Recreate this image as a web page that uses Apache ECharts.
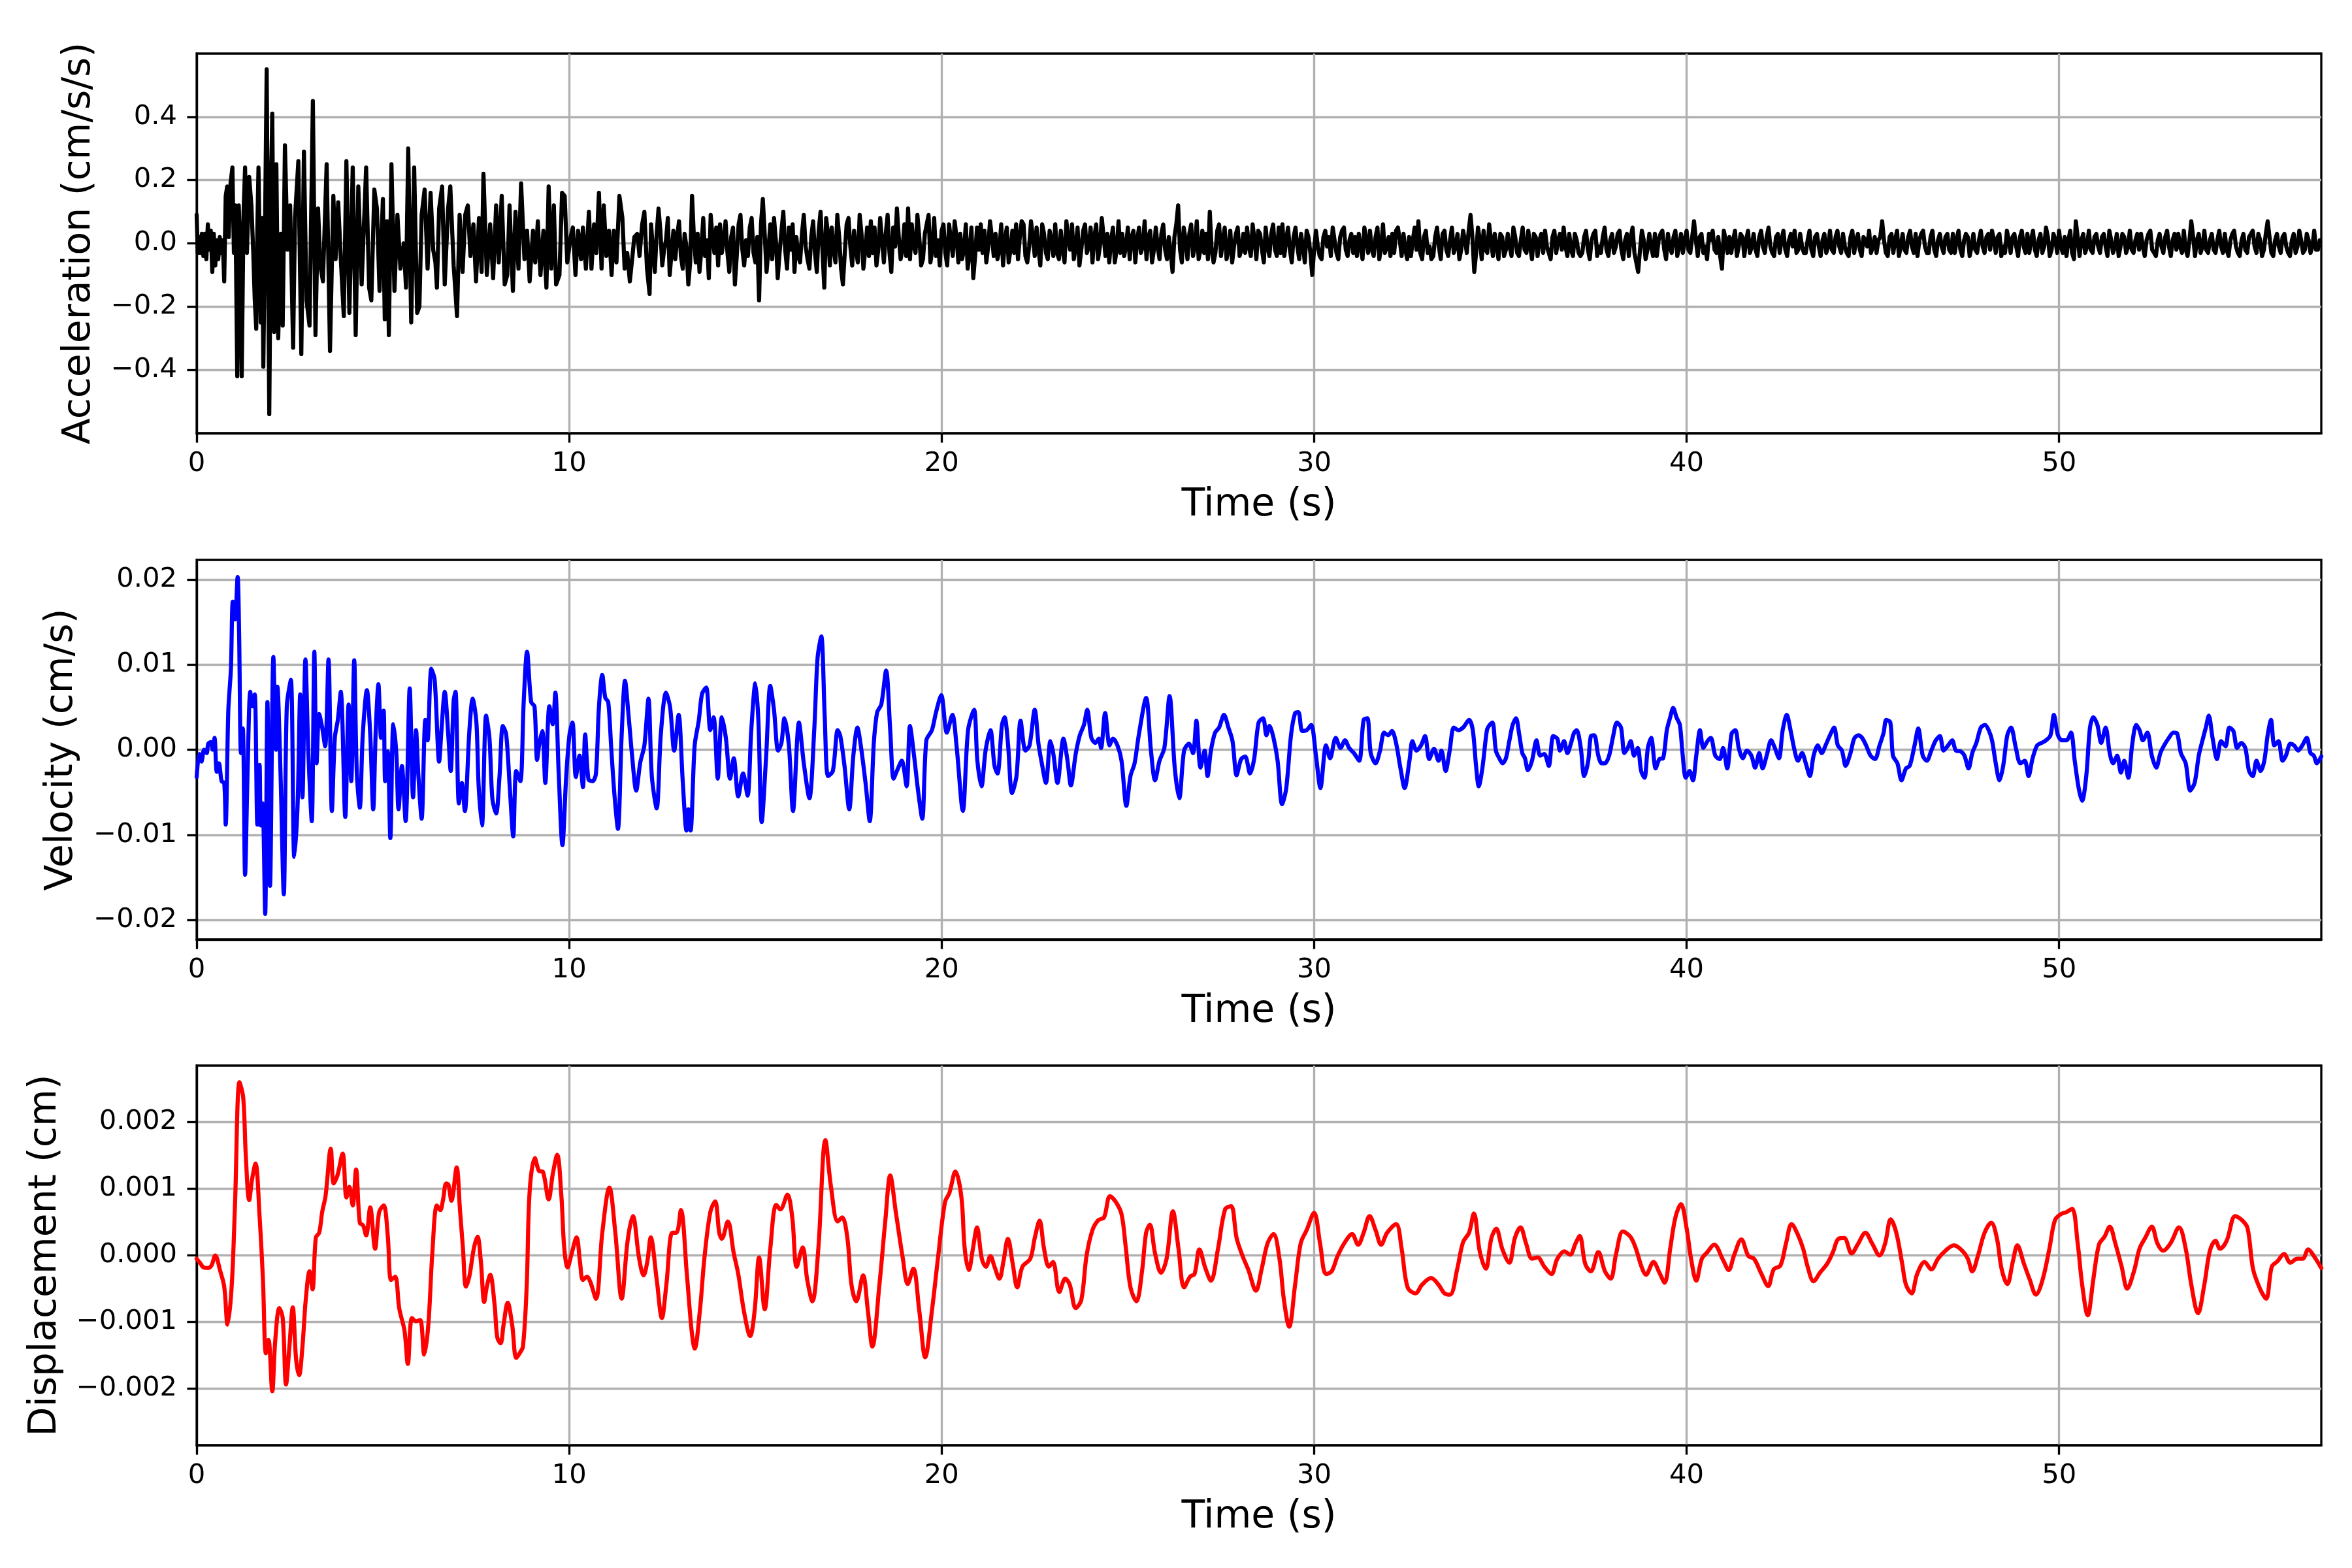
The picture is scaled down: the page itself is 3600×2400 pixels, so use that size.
<!DOCTYPE html>
<html>
<head>
<meta charset="utf-8">
<title>Acceleration, velocity and displacement records</title>
<script src="https://cdn.jsdelivr.net/npm/echarts@6.0.0/dist/echarts.min.js"></script>
<style>
  html, body { margin: 0; padding: 0; background: #fff; }
  #chart { width: 3600px; height: 2400px; }
</style>
</head>
<body>
<div id="chart"></div>
<script>
// ---- data (times in s) ----
// acceleration, in 0.01 cm/s/s. First 12 s read spike by spike, rest on a 0.05 s grid
const accEarlyT = [0.00,0.03,0.06,0.10,0.14,0.18,0.22,0.26,0.30,0.34,0.38,0.42,0.46,0.50,0.54,0.58,0.62,0.66,0.70,0.74,
  0.78,0.82,0.86,0.91,0.96,1.00,1.04,1.09,1.13,1.17,1.21,1.26,1.30,1.35,1.41,1.47,1.52,1.56,1.60,1.63,
  1.66,1.69,1.72,1.76,1.79,1.84,1.88,1.92,1.95,2.00,2.03,2.08,2.14,2.19,2.26,2.31,2.37,2.44,2.51,2.59,
  2.64,2.73,2.81,2.88,2.95,3.03,3.12,3.19,3.26,3.32,3.39,3.49,3.58,3.67,3.73,3.80,3.87,3.95,4.02,4.10,
  4.19,4.27,4.34,4.43,4.55,4.63,4.69,4.77,4.84,4.91,5.00,5.05,5.11,5.16,5.23,5.31,5.39,5.47,5.56,5.62,
  5.68,5.76,5.84,5.92,5.98,6.04,6.12,6.20,6.28,6.35,6.41,6.45,6.51,6.59,6.66,6.75,6.81,6.90,6.99,7.06,
  7.14,7.21,7.28,7.35,7.43,7.50,7.58,7.65,7.70,7.79,7.88,7.96,8.04,8.11,8.19,8.27,8.34,8.40,8.49,8.56,
  8.64,8.71,8.80,8.87,8.94,9.03,9.09,9.16,9.23,9.31,9.39,9.45,9.52,9.59,9.65,9.74,9.81,9.88,9.95,10.04,
  10.10,10.17,10.24,10.32,10.37,10.45,10.53,10.60,10.67,10.73,10.80,10.87,10.93,11.00,11.07,11.14,11.20,11.27,11.35,11.43,
  11.49,11.56,11.63,11.70,11.75,11.83,11.89,11.96,12.02,12.09,12.16];
const accEarlyV = [9,-3,2,-3,3,-4,3,-5,6,-2,4,-9,3,-7,1,-5,2,-3,1,-12,
  15,18,2,19,24,-3,12,-42,12,-1,-42,10,24,-3,21,12,-3,-18,-27,5,
  24,0,-25,8,-39,10,55,-10,-54,20,41,-28,25,-30,3,-26,31,-2,12,-33,
  8,26,-35,29,-18,-26,45,-29,11,-7,-12,25,-34,15,-5,13,-5,-23,26,-22,
  24,-29,18,-13,24,-14,-18,17,11,-15,14,-24,7,-29,25,-15,9,-8,0,-14,
  30,-25,24,-22,-20,9,17,-8,16,-2,-6,-14,11,18,-13,11,18,-7,-23,9,
  -9,9,12,-4,6,-12,8,-9,22,-10,6,-11,12,-6,15,-13,-10,12,-15,10,
  -8,19,-5,4,-12,4,-6,7,-10,4,-14,18,-8,12,-13,-10,16,15,-6,2,
  5,-10,4,-5,5,-8,10,-8,6,-3,16,-8,12,-4,4,-10,4,-6,15,8,
  -8,-3,-12,-4,2,3,-4,6,10,-8,-16];
const accLateStart = 12.2, accLateStep = 0.05;
const accLateV = [
  6,-2,-9,3,11,4,-7,-2,1,8,-10,-3,4,-5,2,7,-4,-8,3,-1,
  -13,-6,15,2,-6,3,-9,-2,8,-4,1,-11,9,2,-3,5,-7,6,-3,1,
  7,-3,-9,2,5,-13,-4,6,9,-2,-7,1,-4,5,8,-3,-6,2,-18,6,
  14,3,-9,-2,6,-5,8,1,-11,-3,4,10,-2,-8,5,-2,6,-9,2,-4,
  -6,3,9,-1,-5,-8,2,7,-3,-9,4,10,-2,-14,8,3,-7,5,-2,-6,
  9,2,-8,-13,-3,6,8,-1,-7,4,-2,-6,9,3,-8,-2,5,-4,7,-3,
  5,-7,-2,8,1,-6,3,9,-3,-9,5,-1,11,2,-5,-2,6,-4,11,-5,
  6,-1,-3,9,2,-7,-5,3,6,9,-6,-2,8,-4,1,-7,4,6,-3,-7,
  6,1,-4,7,2,-6,3,-5,-2,6,-8,-3,5,-11,-4,5,-2,6,-3,4,
  -6,-1,7,2,-4,3,-5,-2,6,-7,1,5,-6,-2,4,-3,6,-5,2,7,
  6,-4,-6,-1,7,2,-4,5,-2,-7,6,3,-3,-5,4,1,-4,6,-3,-5,
  4,-2,-6,7,1,-2,6,-5,-1,5,-7,-2,4,6,-3,-1,5,-6,2,6,
  -5,-1,8,2,-4,3,-6,1,5,-6,-2,7,-3,3,-4,-1,5,-5,2,4,
  -6,1,5,-3,-1,7,-5,2,4,-6,-2,5,-1,-5,3,6,-2,-5,2,-3,
  -9,2,6,12,-2,-6,5,1,-5,3,6,-4,-1,7,-5,-2,4,-3,3,-5,
  10,-2,-6,-3,4,6,-4,1,5,-5,-2,4,-6,-1,3,5,-4,-2,3,-3,
  5,-1,-4,6,1,-5,4,3,-2,-6,5,-1,-4,3,6,-2,-4,5,-3,6,
  -4,1,5,-2,-6,2,5,-1,-5,3,-1,-6,4,2,-3,-10,-2,4,-1,-4,
  -5,2,4,-1,2,-4,5,1,-3,-5,2,4,5,-2,-4,1,3,-3,2,-4,
  3,-1,-5,5,1,-3,4,-2,-4,2,5,-5,-1,6,-3,-1,2,-4,3,-3,
  4,5,1,-4,3,-2,-5,2,-4,1,5,-2,7,-3,-5,2,4,-3,-1,-5,
  -4,2,5,-1,-5,3,4,-2,-4,1,5,-3,-1,3,-5,-2,4,1,-3,4,
  9,2,-9,-3,5,1,-5,4,-2,-3,6,1,-4,3,-1,-5,3,2,-4,-2,
  3,-1,-4,5,2,-3,-4,1,5,-2,-3,4,-1,-5,3,2,-4,1,3,-3,
  4,-1,-3,-5,2,4,-3,1,3,-2,5,-1,-4,3,-2,-4,3,1,-3,-4,
  -3,2,4,-2,-5,1,3,4,-4,-1,-3,2,5,-2,-4,1,3,-3,-1,3,
  4,-2,-5,1,3,-4,2,5,-3,-6,-9,-2,4,1,-5,-2,3,-1,-4,3,
  -4,1,3,4,-2,-5,3,-1,-3,2,4,-4,-1,3,-3,1,4,-2,-3,2,
  7,1,-4,2,3,-3,-1,-5,3,1,4,-2,-3,2,-4,-8,4,1,-3,2,
  -3,1,4,-4,-1,3,2,-4,1,4,-3,-1,3,-2,-4,2,4,-1,-3,2,
  5,-1,-3,-4,2,3,-3,1,4,-2,-4,1,3,-1,4,-3,-2,3,-1,-3,
  -3,1,4,-2,-4,2,3,-1,-4,1,3,-3,-1,4,-2,-3,2,4,-1,-3,
  3,-1,-3,-4,2,4,-3,1,3,-2,-4,2,1,-1,4,-3,-1,2,-3,1,
  2,7,1,-3,-4,2,3,-3,1,4,-4,-1,3,-2,-3,2,4,-1,-3,3,
  -4,1,3,4,-1,-3,-3,2,4,-2,-4,1,3,-1,-3,2,3,-2,-3,3,
  -3,1,4,-2,-4,1,3,2,-4,-1,3,-2,-3,1,4,-1,-3,2,3,-2,
  4,1,-3,2,3,-4,-1,-3,4,1,-3,2,3,-1,-4,2,4,-1,-3,3,
  -3,1,4,-2,-4,1,3,-3,-1,5,2,-4,-2,3,1,-3,4,-1,-3,2,
  -4,1,4,-3,-5,7,2,-4,1,3,-3,-1,4,-2,-3,2,3,-1,-3,2,
  3,-1,-4,4,1,-3,-1,3,-4,-1,3,2,-3,-1,4,-2,-3,1,3,-2,
  3,-1,-4,1,3,4,-2,-3,-4,1,3,-1,-3,2,4,-1,-4,1,3,-2,
  3,-1,-3,4,-2,-4,1,7,2,-4,1,3,-3,-1,4,-2,-3,1,3,-2,
  -3,1,4,-1,-3,3,-2,-4,1,3,4,-1,-3,-4,1,3,-2,-3,2,3,
  4,-1,-3,3,1,-4,-2,3,7,2,-3,-4,1,3,-1,-3,2,3,-1,-3,
  -4,1,3,-3,-1,4,1,-3,-2,3,1,-3,-1,4,-2,-2,1];

// velocity, in 0.001 cm/s
const velT = [0,0.07,0.13,0.2,0.27,0.31,0.38,0.43,0.48,0.54,0.6,0.67,0.74,0.78,0.85,0.92,0.97,1.03,1.1,1.14,
  1.19,1.24,1.3,1.37,1.44,1.5,1.56,1.63,1.69,1.72,1.77,1.84,1.9,1.97,2.06,2.13,2.17,2.25,2.34,2.42,
  2.53,2.62,2.71,2.78,2.84,2.92,3.0,3.09,3.16,3.22,3.29,3.37,3.45,3.54,3.63,3.71,3.79,3.87,3.99,4.08,
  4.15,4.23,4.3,4.38,4.46,4.57,4.66,4.74,4.81,4.88,4.95,5.02,5.06,5.13,5.2,5.28,5.36,5.42,5.51,5.61,
  5.72,5.81,5.89,5.95,6.04,6.14,6.2,6.3,6.39,6.51,6.58,6.66,6.76,6.82,6.9,6.95,7.04,7.12,7.2,7.32,
  7.41,7.51,7.57,7.66,7.77,7.86,7.94,8.04,8.13,8.22,8.31,8.41,8.5,8.58,8.69,8.78,8.87,8.98,9.07,9.14,
  9.2,9.28,9.36,9.47,9.56,9.63,9.72,9.82,9.92,10.01,10.09,10.18,10.28,10.37,10.43,10.52,10.63,10.72,10.8,10.89,
  10.97,11.05,11.13,11.22,11.31,11.41,11.5,11.6,11.69,11.8,11.91,12.02,12.13,12.22,12.35,12.46,12.6,12.71,12.82,12.94,
  13.05,13.15,13.2,13.26,13.37,13.48,13.57,13.68,13.79,13.88,13.99,14.1,14.21,14.32,14.42,14.54,14.67,14.79,14.89,15.0,
  15.08,15.17,15.29,15.4,15.5,15.61,15.7,15.78,15.9,16.01,16.17,16.3,16.45,16.58,16.67,16.77,16.86,16.95,17.08,17.21,
  17.28,17.39,17.52,17.63,17.74,17.83,17.96,18.07,18.18,18.27,18.38,18.51,18.62,18.71,18.8,18.93,19.06,19.15,19.26,19.37,
  19.48,19.59,19.74,19.85,19.99,20.14,20.29,20.4,20.57,20.71,20.87,20.96,21.07,21.18,21.31,21.42,21.5,21.62,21.69,21.78,
  21.89,22.01,22.12,22.25,22.36,22.5,22.6,22.69,22.8,22.92,23.0,23.11,23.27,23.38,23.47,23.6,23.71,23.82,23.91,24.02,
  24.13,24.22,24.28,24.39,24.51,24.6,24.72,24.83,24.96,25.07,25.18,25.3,25.49,25.62,25.73,25.85,25.98,26.12,26.26,26.38,
  26.51,26.64,26.75,26.84,26.95,27.06,27.14,27.23,27.34,27.45,27.58,27.7,27.81,27.92,28.04,28.15,28.28,28.39,28.51,28.63,
  28.72,28.8,28.91,29.02,29.14,29.25,29.38,29.49,29.58,29.68,29.8,29.92,30.05,30.17,30.32,30.43,30.58,30.71,30.83,30.94,
  31.07,31.21,31.33,31.43,31.52,31.65,31.77,31.88,31.99,32.09,32.2,32.32,32.43,32.56,32.64,32.75,32.87,32.98,33.09,33.22,
  33.34,33.42,33.53,33.64,33.75,33.87,34.0,34.16,34.26,34.35,34.42,34.52,34.64,34.71,34.79,34.88,34.97,35.06,35.15,35.24,
  35.33,35.42,35.51,35.59,35.66,35.74,35.85,35.97,36.07,36.18,36.3,36.42,36.53,36.6,36.71,36.8,36.9,36.98,37.05,37.16,
  37.25,37.36,37.43,37.52,37.63,37.72,37.81,37.92,38.02,38.13,38.24,38.33,38.42,38.5,38.59,38.69,38.78,38.87,38.96,39.05,
  39.17,39.27,39.37,39.47,39.56,39.64,39.73,39.82,39.89,39.98,40.08,40.17,40.26,40.36,40.45,40.56,40.65,40.77,40.89,40.98,
  41.09,41.21,41.31,41.4,41.51,41.62,41.74,41.84,41.95,42.04,42.15,42.27,42.37,42.48,42.58,42.69,42.79,42.89,42.99,43.1,
  43.2,43.31,43.41,43.52,43.63,43.73,43.85,43.96,44.06,44.17,44.27,44.4,44.5,44.61,44.71,44.82,44.94,45.06,45.18,45.29,
  45.36,45.47,45.54,45.66,45.77,45.89,45.99,46.12,46.22,46.34,46.45,46.57,46.69,46.8,46.9,47.02,47.13,47.23,47.36,47.46,
  47.57,47.67,47.78,47.9,48.01,48.11,48.2,48.3,48.4,48.5,48.61,48.71,48.84,48.96,49.08,49.18,49.29,49.41,49.53,49.65,
  49.77,49.86,49.97,50.08,50.2,50.32,50.42,50.53,50.62,50.73,50.83,50.92,51.03,51.13,51.25,51.36,51.45,51.56,51.66,51.75,
  51.86,51.96,52.07,52.16,52.25,52.37,52.49,52.61,52.72,52.82,52.95,53.07,53.17,53.27,53.4,53.52,53.64,53.75,53.85,53.94,
  54.02,54.12,54.24,54.35,54.47,54.57,54.68,54.78,54.89,55.0,55.1,55.2,55.3,55.41,55.51,55.6,55.69,55.78,55.89,56.0,
  56.09,56.21,56.31,56.42,56.53,56.65,56.75,56.84,56.92,57.04];
const velV = [-3.2,-0.5,-1.4,0,-0.4,0.7,0.9,0,1.4,-2.6,-1.6,-3.7,-3.9,-8.8,4.6,9.5,17.4,15.3,20.3,13.7,
  -0.4,2.5,-14.7,-2.1,6.8,5.1,6.5,-8.8,-1.8,-8.9,-6.3,-19.3,5.6,-16.0,10.9,0,7.4,-2.5,-17.0,5.1,
  8.2,-12.6,-6.5,6.5,-5.6,10.6,-0.4,-8.4,11.5,-1.6,4.2,2.6,0.4,10.6,-7.2,1.4,3.5,6.8,-7.9,5.3,
  -3.7,10.5,-2.8,-6.8,1.8,7.0,1.8,-7.0,2.5,7.7,1.4,4.6,-3.7,-0.2,-10.4,3.0,-0.4,-7.0,-1.9,-8.4,
  7.2,-5.6,2.3,-2.8,-8.1,3.5,1.1,9.5,8.2,-1.4,2.8,6.8,1.4,-2.5,5.8,6.8,-6.3,-3.9,-7.2,2.1,
  6.0,3.2,-4.2,-8.9,4.0,1.4,-5.8,-7.5,-3.2,2.8,1.8,-4.7,-10.2,-2.5,-3.7,5.6,11.5,5.6,5.1,-1.2,
  0.7,2.2,-3.9,5.1,3.0,6.7,-2.8,-11.2,-3.2,1.8,3.2,-3.2,-0.7,-4.4,1.8,-3.5,-3.7,-2.8,5.0,8.8,
  6.1,5.6,0.2,-5.5,-9.3,1.7,8.1,3.8,-0.7,-4.8,-1.5,0.5,6.0,-3.1,-6.9,1.7,6.7,5.0,-0.1,4.1,
  -3.7,-9.5,-7.0,-9.5,0.5,3.4,6.6,7.3,2.3,3.8,-3.4,3.8,1.3,-3.4,-1.0,-5.5,-2.8,-5.4,2.3,7.8,
  3.5,-8.5,-0.7,7.5,4.7,-0.1,0.8,3.7,0.5,-7.2,3.2,-1.6,-5.7,2.3,10.8,13.3,4.1,-3.1,-2.5,2.3,
  1.6,-1.8,-7.0,-0.7,2.6,0.5,-4.0,-8.4,0.8,4.4,5.3,9.3,2.3,-3.4,-2.5,-1.3,-4.3,2.8,-0.7,-4.9,
  -8.1,1.1,2.3,4.4,6.4,2.0,4.1,0.5,-7.2,2.3,4.7,-1.3,-4.3,-0.1,2.3,-1.9,-2.8,2.9,3.8,0.8,
  -5.1,-3.1,3.4,-0.1,0.5,4.7,0.7,-1.6,-3.9,1.0,-0.5,-3.9,1.3,-1.3,-4.2,-0.5,1.7,2.9,4.7,1.4,
  0.8,1.3,0.2,4.3,0.5,1.3,0.5,-1.3,-6.6,-3.1,-1.6,1.9,6.1,-0.1,-3.6,-1.3,0.2,6.3,-2.2,-5.7,
  -0.1,0.7,-0.4,3.4,-2.1,-0.1,-3.1,-0.1,2.0,2.6,4.1,2.6,1.0,-3.0,-1.1,-0.8,-2.8,-1.1,3.2,3.7,
  1.7,2.8,1.4,-1.3,-6.4,-4.6,1.7,4.3,4.4,2.2,2.3,2.9,-0.7,-4.5,0.5,-1.0,1.4,0.2,1.1,0.2,
  -0.4,-1.3,3.5,3.7,-0.4,-1.6,-0.1,2.0,1.7,2.2,0.8,-2.2,-4.5,-1.3,1.0,-0.1,0.5,1.6,-1.1,0.1,
  -1.3,-0.1,-2.5,-0.1,2.6,2.3,2.6,3.5,2.3,-2.0,-4.3,-2.1,2.3,2.9,3.2,-0.1,-1.0,-1.6,-1.0,1.0,
  2.9,3.7,1.7,-0.4,-1.0,-2.4,-1.3,1.1,-0.7,-0.5,-1.9,1.6,1.3,-0.1,1.0,-0.4,0.8,2.0,2.3,0.2,
  -3.1,-1.3,1.6,1.7,-0.7,-1.6,-1.6,-0.7,1.4,3.2,2.6,-0.4,0.2,1.0,-0.7,0.2,-2.5,-3.3,0.2,1.4,
  -2.2,-1.1,-1.0,2.3,3.8,4.9,3.8,2.9,-0.4,-3.3,-2.5,-3.6,-0.7,2.3,0.2,1.0,1.4,-0.7,-1.1,0.2,
  -2.2,1.9,2.3,0.2,-1.0,-0.1,-0.7,-2.1,-0.4,-2.2,-0.7,1.1,0.2,-1.0,2.3,4.1,2.3,0.1,-1.3,-0.4,
  -1.6,-3.1,-0.7,0.5,-0.4,0.5,1.7,2.6,0.5,-0.1,-1.9,-0.4,1.3,1.7,1.4,0.5,-0.7,-1.1,0.5,2.0,
  3.5,3.2,-0.7,-1.6,-3.6,-2.2,-1.9,0.5,2.5,-0.7,-1.3,-0.1,1.1,1.6,-0.1,0.5,1.1,-0.1,-0.2,-0.7,
  -2.2,-0.4,0.8,2.6,2.9,2.3,1.1,-1.6,-3.6,-1.9,1.7,2.6,0.2,-1.6,-1.3,-3.1,-1.0,0.5,0.8,1.1,
  1.7,4.1,1.7,1.1,1.1,2.0,-1.3,-4.6,-6.0,-3.1,2.6,3.8,2.9,0.8,2.6,-0.4,-1.6,-0.7,-2.7,-1.3,
  -3.3,0.5,2.9,2.3,1.1,2.0,-0.7,-2.1,-0.4,0.5,1.4,2.0,1.9,-0.4,-1.6,-4.8,-3.9,-0.7,1.1,2.6,
  4.0,1.4,-1.1,1.0,0.4,2.6,2.2,0.2,0.8,0.2,-2.5,-3.1,-1.3,-2.5,-1.3,1.7,3.5,0.5,1.0,-1.3,
  -0.7,0.7,0.5,-0.1,0.5,1.4,-0.4,-0.7,-1.6,-0.8];

// displacement, in 0.001 cm
const dispT = [0,0.1,0.18,0.3,0.4,0.5,0.63,0.74,0.83,0.94,1.03,1.15,1.25,1.32,1.41,1.49,1.58,1.69,1.78,1.86,
  1.93,2.03,2.11,2.22,2.31,2.4,2.49,2.58,2.67,2.75,2.84,2.93,3.03,3.11,3.2,3.29,3.37,3.46,3.6,3.68,
  3.78,3.92,4.02,4.1,4.19,4.28,4.38,4.47,4.55,4.66,4.79,4.9,5.02,5.13,5.22,5.33,5.44,5.58,5.67,5.78,
  5.89,6.0,6.11,6.22,6.33,6.45,6.54,6.61,6.7,6.76,6.84,6.98,7.07,7.15,7.23,7.32,7.44,7.54,7.63,7.72,
  7.79,7.88,8.0,8.07,8.16,8.24,8.35,8.47,8.58,8.67,8.76,8.86,8.94,9.08,9.19,9.3,9.45,9.56,9.68,9.79,
  9.87,9.96,10.06,10.2,10.29,10.37,10.48,10.57,10.72,10.89,11.08,11.24,11.41,11.57,11.71,11.88,12.0,12.1,12.19,12.35,
  12.49,12.61,12.77,12.88,13.0,13.16,13.29,13.37,13.51,13.63,13.79,13.92,14.03,14.1,14.26,14.42,14.54,14.7,14.86,14.98,
  15.1,15.25,15.4,15.56,15.67,15.86,15.99,16.11,16.27,16.39,16.53,16.69,16.88,17.03,17.21,17.33,17.47,17.58,17.71,17.89,
  18.02,18.14,18.33,18.49,18.62,18.77,18.96,19.09,19.24,19.4,19.56,19.74,19.9,20.09,20.21,20.37,20.53,20.62,20.73,20.84,
  20.95,21.08,21.19,21.31,21.42,21.55,21.66,21.78,21.91,22.03,22.17,22.38,22.5,22.63,22.75,22.88,22.99,23.16,23.32,23.44,
  23.6,23.75,23.89,24.05,24.21,24.36,24.52,24.68,24.83,24.94,25.07,25.23,25.38,25.49,25.59,25.73,25.89,26.04,26.21,26.36,
  26.51,26.67,26.79,26.92,27.08,27.23,27.42,27.61,27.77,27.92,28.08,28.23,28.44,28.59,28.75,28.91,29.07,29.19,29.33,29.49,
  29.64,29.8,30.0,30.16,30.32,30.47,30.63,30.83,31.02,31.18,31.33,31.49,31.65,31.8,31.96,32.2,32.35,32.51,32.72,32.9,
  33.14,33.34,33.5,33.65,33.84,34.0,34.16,34.29,34.45,34.61,34.76,34.89,35.05,35.24,35.39,35.54,35.69,35.85,36.0,36.18,
  36.37,36.53,36.72,36.87,37.02,37.13,37.28,37.43,37.63,37.81,37.96,38.11,38.29,38.49,38.64,38.79,38.91,39.11,39.27,39.41,
  39.56,39.7,39.85,40.0,40.12,40.26,40.41,40.56,40.74,40.98,41.13,41.28,41.47,41.66,41.81,42.01,42.19,42.34,42.52,42.67,
  42.82,42.98,43.13,43.25,43.41,43.58,43.78,43.93,44.08,44.23,44.43,44.61,44.8,44.98,45.18,45.33,45.48,45.63,45.79,45.89,
  46.04,46.19,46.39,46.57,46.75,46.95,47.18,47.4,47.55,47.67,47.82,48.0,48.18,48.33,48.46,48.61,48.76,48.88,49.06,49.21,
  49.38,49.56,49.74,49.89,50.05,50.2,50.35,50.5,50.62,50.77,50.92,51.07,51.22,51.36,51.51,51.68,51.83,52.01,52.16,52.31,
  52.49,52.64,52.79,52.99,53.22,53.4,53.55,53.73,53.9,54.05,54.2,54.32,54.5,54.73,54.91,55.06,55.21,55.41,55.56,55.71,
  55.86,56.04,56.21,56.39,56.54,56.69,56.84,57.04];
const dispV = [-0.05,-0.12,-0.18,-0.19,-0.15,0.0,-0.23,-0.47,-1.04,-0.47,0.77,2.6,2.37,1.49,0.83,1.15,1.38,0.58,-0.37,-1.47,
  -1.27,-2.04,-1.28,-0.79,-0.94,-1.94,-1.37,-0.78,-1.56,-1.8,-1.37,-0.66,-0.24,-0.51,0.27,0.34,0.65,0.89,1.6,1.08,
  1.2,1.53,0.87,1.03,0.75,1.29,0.49,0.45,0.3,0.72,0.1,0.65,0.75,0.3,-0.37,-0.32,-0.8,-1.13,-1.63,-0.94,
  -0.99,-0.97,-1.49,-1.04,0.06,0.75,0.68,0.82,1.08,1.06,0.82,1.32,0.68,0.1,-0.47,-0.32,0.1,0.28,-0.09,-0.7,
  -0.47,-0.29,-0.75,-1.23,-1.32,-1.04,-0.71,-1.04,-1.54,-1.47,-1.37,-0.47,0.96,1.46,1.27,1.25,0.84,1.22,1.51,0.91,
  0.1,-0.18,0.01,0.27,-0.09,-0.37,-0.32,-0.4,-0.65,0.34,1.02,0.34,-0.65,0.22,0.59,-0.05,-0.3,-0.09,0.27,-0.36,
  -0.94,-0.44,0.34,0.34,0.68,-0.28,-1.14,-1.4,-0.83,-0.05,0.65,0.81,0.34,0.25,0.51,0.03,-0.28,-0.86,-1.21,-0.83,
  -0.03,-0.81,0.1,0.76,0.69,0.91,0.57,-0.17,0.12,-0.36,-0.69,0.1,1.73,1.03,0.51,0.57,0.26,-0.44,-0.69,-0.3,
  -0.83,-1.37,-0.44,0.53,1.2,0.65,-0.05,-0.43,-0.2,-0.83,-1.53,-0.83,-0.05,0.8,0.94,1.26,0.88,0.1,-0.22,0.1,
  0.42,-0.05,-0.17,-0.01,-0.17,-0.35,-0.09,0.25,-0.13,-0.48,-0.17,-0.05,0.26,0.52,0.1,-0.17,-0.1,-0.55,-0.35,-0.44,
  -0.79,-0.67,-0.01,0.38,0.53,0.57,0.89,0.8,0.62,0.14,-0.48,-0.69,-0.24,0.34,0.46,0.03,-0.26,-0.05,0.66,0.1,
  -0.48,-0.32,-0.28,0.09,-0.19,-0.38,0.1,0.69,0.74,0.26,-0.01,-0.21,-0.53,-0.21,0.18,0.32,-0.05,-0.67,-1.07,-0.44,
  0.18,0.38,0.64,0.18,-0.28,-0.24,-0.01,0.2,0.32,0.16,0.34,0.59,0.38,0.16,0.34,0.47,0.1,-0.48,-0.57,-0.44,
  -0.34,-0.44,-0.57,-0.59,-0.21,0.2,0.34,0.63,0.05,-0.2,0.26,0.4,0.1,-0.11,0.26,0.42,0.18,-0.05,-0.03,-0.17,
  -0.28,-0.05,0.06,0.01,0.18,0.29,-0.13,-0.24,0.05,-0.24,-0.35,0.03,0.36,0.28,0.1,-0.17,-0.29,-0.1,-0.26,-0.41,
  0.1,0.57,0.77,0.41,-0.05,-0.38,-0.05,0.05,0.16,-0.07,-0.22,0.01,0.24,-0.01,-0.05,-0.28,-0.46,-0.21,-0.15,0.18,
  0.47,0.32,0.1,-0.17,-0.39,-0.26,-0.12,0.05,0.25,0.26,0.03,0.18,0.34,0.18,0.0,0.18,0.54,0.34,-0.13,-0.44,
  -0.57,-0.28,-0.1,-0.21,-0.05,0.07,0.15,0.07,-0.05,-0.24,-0.01,0.34,0.49,0.26,-0.21,-0.43,-0.09,0.15,-0.13,-0.36,
  -0.59,-0.36,0.1,0.53,0.62,0.65,0.7,0.18,-0.44,-0.9,-0.36,0.16,0.28,0.43,0.18,-0.17,-0.5,-0.24,0.1,0.26,
  0.43,0.18,0.07,0.18,0.42,0.1,-0.44,-0.87,-0.44,0.07,0.22,0.1,0.22,0.59,0.53,0.41,-0.21,-0.52,-0.65,-0.17,
  -0.09,0.02,-0.11,-0.05,-0.05,0.09,-0.01,-0.19];

const xTicks = [0, 10, 20, 30, 40, 50];
const accTicks = [-0.4, -0.2, 0, 0.2, 0.4];
const velTicks = [-0.02, -0.01, 0, 0.01, 0.02];
const dispTicks = [-0.002, -0.001, 0, 0.001, 0.002];

// ---- build series points ----
const accData = accEarlyT.map((t, i) => [t, accEarlyV[i] * 0.01])
  .concat(accLateV.map((v, i) => [+(accLateStart + i * accLateStep).toFixed(2), v * 0.01]));
const velData = velT.map((t, i) => [t, velV[i] * 0.001]);
const dispData = dispT.map((t, i) => [t, dispV[i] * 0.001]);

// figure was drawn at 300 dpi: 1 pt = 300/72 px
const PT = 300 / 72;
const FONT = 'DejaVu Sans';
const minus = (s) => s.replace('-', '\u2212');

const panels = [
  { top: 82, label: 'Acceleration (cm/s/s)', gap: 150, lim: 0.6, ticks: accTicks, dec: 1, color: '#000000', data: accData, smooth: false },
  { top: 857, label: 'Velocity (cm/s)', gap: 177, lim: 0.0223, ticks: velTicks, dec: 2, color: '#0000ff', data: velData, smooth: 0.3 },
  { top: 1631, label: 'Displacement (cm)', gap: 202, lim: 0.00285, ticks: dispTicks, dec: 3, color: '#ff0000', data: dispData, smooth: 0.35 },
];

const tickStyle = { show: true, length: 3.5 * PT, lineStyle: { color: '#000', width: 0.8 * PT } };
const gridLine = { show: true, lineStyle: { color: '#b0b0b0', width: 0.8 * PT } };
const labelFont = { fontFamily: FONT, fontSize: 10 * PT, color: '#000' };
const nameFont = { fontFamily: FONT, fontSize: 14 * PT, color: '#000' };

const chart = echarts.init(document.getElementById('chart'), null, { renderer: 'canvas' });
chart.setOption({
  animation: false,
  backgroundColor: '#ffffff',
  grid: panels.map(p => ({ left: 301, right: 47, top: p.top, height: 581, show: true,
    borderColor: '#000', borderWidth: 0.8 * PT, backgroundColor: 'transparent' })),
  xAxis: panels.map((p, i) => ({
    type: 'value', gridIndex: i, min: 0, max: 57.04, interval: 10,
    name: 'Time (s)', nameLocation: 'middle', nameGap: 82, nameTextStyle: nameFont,
    axisLine: { show: true, onZero: false, lineStyle: { color: '#000', width: 0.8 * PT } },
    axisTick: Object.assign({ customValues: xTicks }, tickStyle),
    axisLabel: Object.assign({ margin: 26, customValues: xTicks, formatter: v => String(v) }, labelFont),
    splitLine: gridLine,
  })),
  yAxis: panels.map((p, i) => ({
    type: 'value', gridIndex: i, min: -p.lim, max: p.lim, splitNumber: 5,
    name: p.label, nameLocation: 'middle', nameGap: p.gap, nameTextStyle: nameFont,
    axisLine: { show: true, onZero: false, lineStyle: { color: '#000', width: 0.8 * PT } },
    axisTick: Object.assign({ customValues: p.ticks }, tickStyle),
    axisLabel: Object.assign({ margin: 30, customValues: p.ticks, formatter: v => minus(v.toFixed(p.dec)) }, labelFont),
    splitLine: gridLine,
  })),
  series: panels.map((p, i) => ({
    type: 'line', xAxisIndex: i, yAxisIndex: i, data: p.data,
    showSymbol: false, symbol: 'none', smooth: p.smooth, clip: true, silent: true, z: 3,
    lineStyle: { color: p.color, width: 1.5 * PT, join: 'round', cap: 'round' },
  })),
});
</script>
</body>
</html>
